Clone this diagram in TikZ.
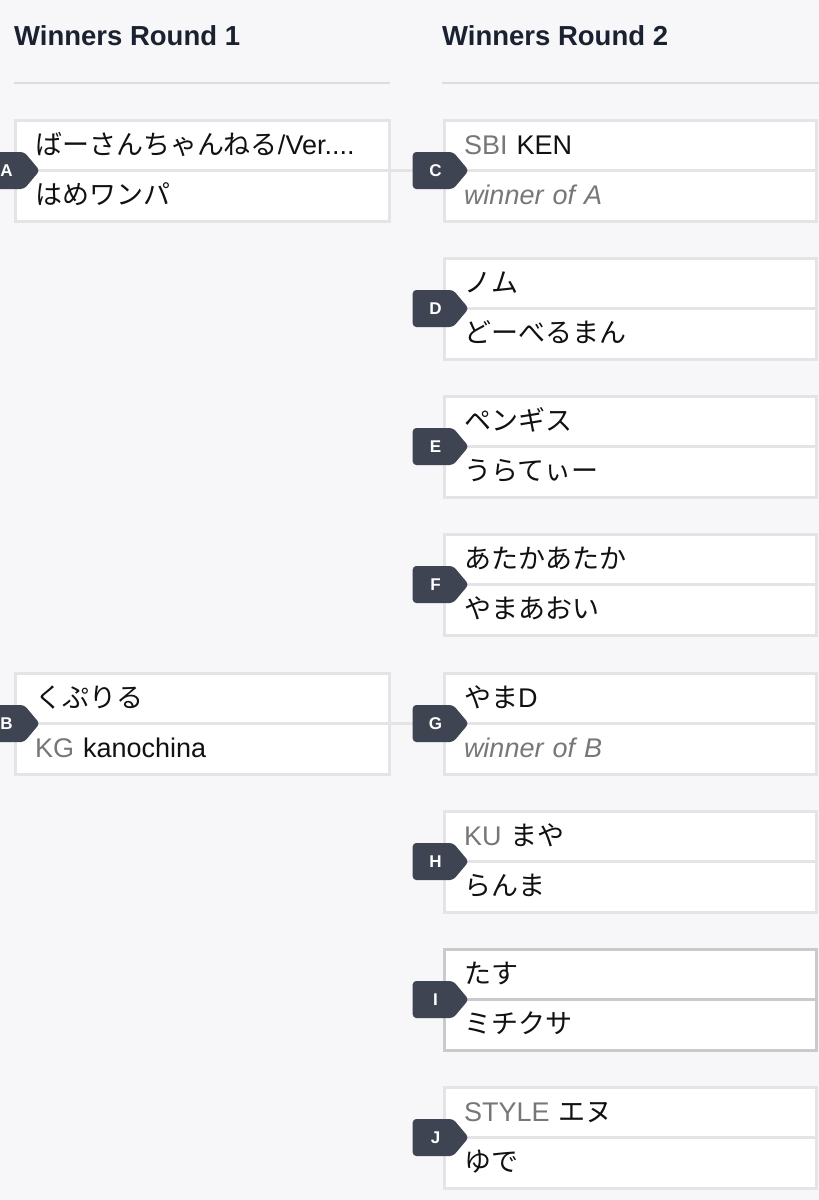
\documentclass[tikz,border=0pt]{standalone}
\usepackage{fontspec}
\setmainfont{Liberation Sans}
\newfontfamily\jp{Noto Sans CJK JP}
\usepackage{xcolor}
\usetikzlibrary{
    shapes,
    positioning
}
\definecolor{pagebg}{HTML}{F7F7F9}
\definecolor{slotline}{HTML}{E4E4E6}
\definecolor{hoverline}{HTML}{CACACC}
\definecolor{ruleline}{HTML}{DCDCE0}
\definecolor{tagbg}{HTML}{3E4451}
\definecolor{headtext}{HTML}{1A2130}
\definecolor{nametext}{HTML}{111111}
\definecolor{pretext}{HTML}{777777}

\newcommand{\pre}[1]{{\color{pretext}#1}}
\newcommand{\tbd}[1]{{\color{pretext}\itshape #1}}

\begin{document}
\begin{tikzpicture}[x=1pt,y=-1pt,
    slot/.style={draw=slotline,line width=3pt,fill=white,outer sep=0pt,
        inner ysep=0pt,inner xsep=20pt,text width=#1,align=left,
        text height=34pt,text depth=16.5pt,text=nametext,
        font=\fontsize{27}{30}\selectfont},
    slot/.default=334pt,
    hover/.style={draw=hoverline},
    tag/.style={signal,signal to=east,signal pointer angle=100,fill=tagbg,
        rounded corners=3.5pt,minimum width=56pt,minimum height=37pt,
        inner sep=0pt,text=white,font=\bfseries\fontsize{17}{17}\selectfont},
    link/.style={slotline,line width=3pt},
    head/.style={text=headtext,font=\bfseries\fontsize{27.5}{30}\selectfont,inner sep=0pt}]
    \useasboundingbox[fill=pagebg] (0,0) rectangle (819,1200);

    % headers
    \node[head,anchor=base west] (h1) at (14,45) {Winners Round 1};
    \node[head,anchor=base west] (h2) at (442,45) {Winners Round 2};
    \draw[ruleline,line width=1.5pt] (14,83) -- (390,83);
    \draw[ruleline,line width=1.5pt] (442,83) -- (819,83);

    % round 1
    \node[slot,anchor=north west] (A1) at (15,120) {{\jp ばーさんちゃんねる}/Ver....};
    \node[slot,below=0pt of A1] (A2) {\jp はめワンパ};
    \node[slot,anchor=north west] (B1) at (15,673) {\jp くぷりる};
    \node[slot,below=0pt of B1] (B2) {\pre{KG} kanochina};

    % round 2
    \foreach \m/\y/\p/\q in {
        C/120/{\pre{SBI} KEN}/{\tbd{winner of A}},
        D/258/{\jp ノム}/{\jp どーべるまん},
        E/396/{\jp ペンギス}/{\jp うらてぃー},
        F/534/{\jp あたかあたか}/{\jp やまあおい},
        G/673/{{\jp やま}D}/{\tbd{winner of B}},
        H/811/{\pre{KU} {\jp まや}}/{\jp らんま},
        J/1087/{\pre{STYLE} {\jp エヌ}}/{\jp ゆで}}
    {
        \node[slot=332pt,anchor=north west] (\m1) at (444,\y) {\p};
        \node[slot=332pt,below=0pt of \m1] (\m2) {\q};
    }
    \node[slot=332pt,hover,anchor=north west] (I1) at (444,949) {\jp たす};
    \node[slot=332pt,hover,below=0pt of I1] (I2) {\jp ミチクサ};

    % links
    \draw[link] (A1.south east) -- (C1.south west);
    \draw[link] (B1.south east) -- (G1.south west);

    % match tags
    \foreach \m in {A,B,C,D,E,F,G,H,I,J}
        \node[tag,anchor=east] (tag\m) at ([xshift=25pt]\m1.south west) {\kern5pt\m};
\end{tikzpicture}
\end{document}
